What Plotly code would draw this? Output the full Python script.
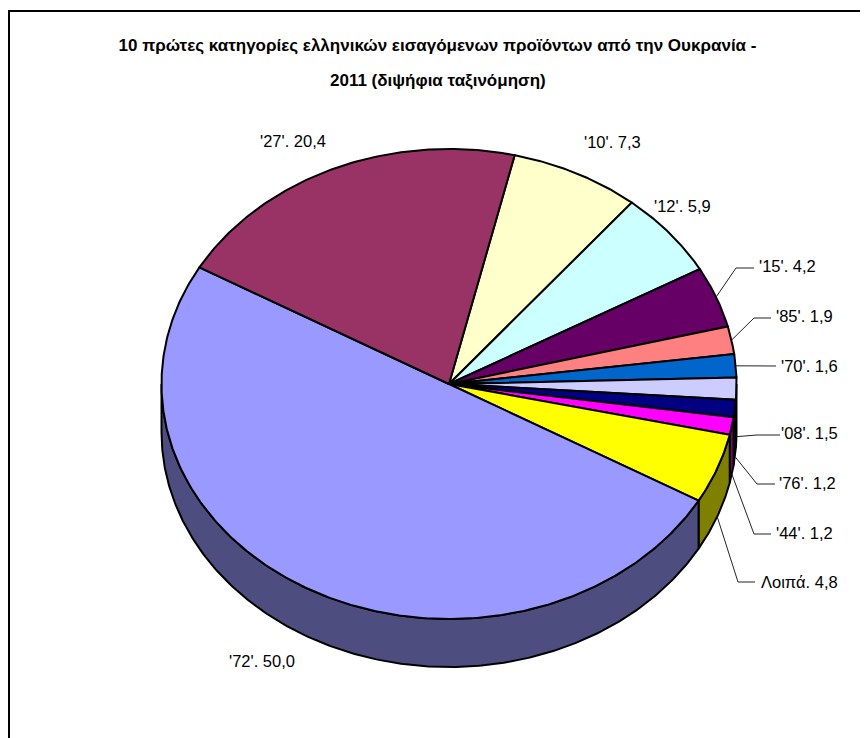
import numpy as np
import plotly.graph_objects as go

# ---- data ----
categories = ["'10'", "'12'", "'15'", "'85'", "'70'", "'08'", "'76'", "'44'", "Λοιπά", "'72'", "'27'"]
values = [7.3, 5.9, 4.2, 1.9, 1.6, 1.5, 1.2, 1.2, 4.8, 50.0, 20.4]
colors = ["#FFFFCC", "#CCFFFF", "#660066", "#FF8080", "#0066CC", "#CCCCFF", "#000080", "#FF00FF", "#FFFF00", "#9999FF", "#993366"]
side_colors = ["#80805F", "#668080", "#330033", "#804040", "#003366", "#666680", "#000040", "#800080", "#808000", "#4D4D80", "#4D1A33"]
title_lines = ["10 πρώτες κατηγορίες ελληνικών εισαγόμενων προϊόντων από την Ουκρανία -", "2011 (διψήφια ταξινόμηση)"]

# ---- layout of the drawing (axes in page pixels; the page has an 8 px body margin) ----
W, H, PAGE_MARGIN = 868, 738, 8
CX, CY, RX, RY, DEPTH = 449.0, 384.0, 287.5, 235.0, 48.0
START = 13.2
FONT = "Liberation Sans, Arial, sans-serif"

# label centre (x, y) and optional elbow, per category
label_pos = {
    "'10'": (612, 142, None), "'12'": (682, 206, None),
    "'15'": (787, 266, (736, 268, 754)), "'85'": (804, 316, (754, 318, 771)),
    "'70'": (809, 366, (760, 366, 776)), "'08'": (809, 433, (757, 435, 780)),
    "'76'": (807, 483, (757, 484, 775)), "'44'": (804, 533, (754, 534, 771)),
    "Λοιπά": (799, 582, (738, 582, 755)), "'72'": (262, 661, None), "'27'": (293, 141, None),
}


def pt(deg, dy=0.0):
    a = np.radians(np.asarray(deg, dtype=float))
    return CX + RX * np.sin(a), CY - RY * np.cos(a) + dy


edges = START + np.cumsum([0] + values) * 3.6
fig = go.Figure()

# side wall (front half only: 90..270 deg clockwise from top)
for i, c in enumerate(categories):
    a0, a1 = max(edges[i], 90.0), min(edges[i + 1], 270.0)
    if a1 <= a0:
        continue
    t = np.linspace(a0, a1, max(int(a1 - a0) * 2, 8))
    xt, yt = pt(t)
    xb, yb = pt(t[::-1], DEPTH)
    fig.add_trace(go.Scatter(x=np.r_[xt, xb, xt[0]], y=np.r_[yt, yb, yt[0]], mode="lines", fill="toself",
                             fillcolor=side_colors[i], line=dict(color="black", width=2), hoverinfo="skip", showlegend=False))

# top face
for i, c in enumerate(categories):
    t = np.linspace(edges[i], edges[i + 1], max(int(edges[i + 1] - edges[i]) * 2, 8))
    xs, ys = pt(t)
    fig.add_trace(go.Scatter(x=np.r_[CX, xs, CX], y=np.r_[CY, ys, CY], mode="lines", fill="toself",
                             fillcolor=colors[i], line=dict(color="black", width=2), name=c, text=f"{c}. {values[i]}",
                             hoverinfo="text", showlegend=False))

# labels and leader lines
ann = []
for i, c in enumerate(categories):
    lx, ly, elbow = label_pos[c]
    txt = c + ". " + f"{values[i]:.1f}".replace(".", ",")
    ann.append(dict(x=lx, y=ly, text=txt, showarrow=False, xanchor="center", yanchor="middle",
                    font=dict(family=FONT, size=16.5, color="black")))
    if elbow:
        mid = (edges[i] + edges[i + 1]) / 2
        ax, ay = pt(mid, DEPTH if mid > 90 else 0.0)
        ex, ey, tx = elbow
        fig.add_trace(go.Scatter(x=[ax, ex, tx], y=[ay, ey, ey], mode="lines", line=dict(color="#222222", width=1),
                                 hoverinfo="skip", showlegend=False))

ann.append(dict(x=437.5, y=80, text="<b>" + title_lines[1] + "</b>", showarrow=False, xanchor="center", yanchor="middle",
                font=dict(family=FONT, size=17, color="black")))

fw, fh = W - PAGE_MARGIN, H - PAGE_MARGIN
fig.update_layout(
    width=fw, height=fh, margin=dict(l=0, r=0, t=0, b=0), paper_bgcolor="white", plot_bgcolor="white",
    title=dict(text="<b>" + title_lines[0] + "</b>", x=(437.5 - PAGE_MARGIN) / fw, xanchor="center",
               y=1 - (45 - PAGE_MARGIN) / fh, yanchor="middle", font=dict(family=FONT, size=17, color="black")),
    xaxis=dict(range=[PAGE_MARGIN, W], visible=False, fixedrange=True),
    yaxis=dict(range=[H, PAGE_MARGIN], visible=False, fixedrange=True),
    annotations=ann,
    shapes=[dict(type="rect", x0=9, y0=11, x1=W + 20, y1=H + 20, line=dict(color="black", width=2), layer="below")],
)
fig.write_html("out.html", config=dict(displayModeBar=False))
